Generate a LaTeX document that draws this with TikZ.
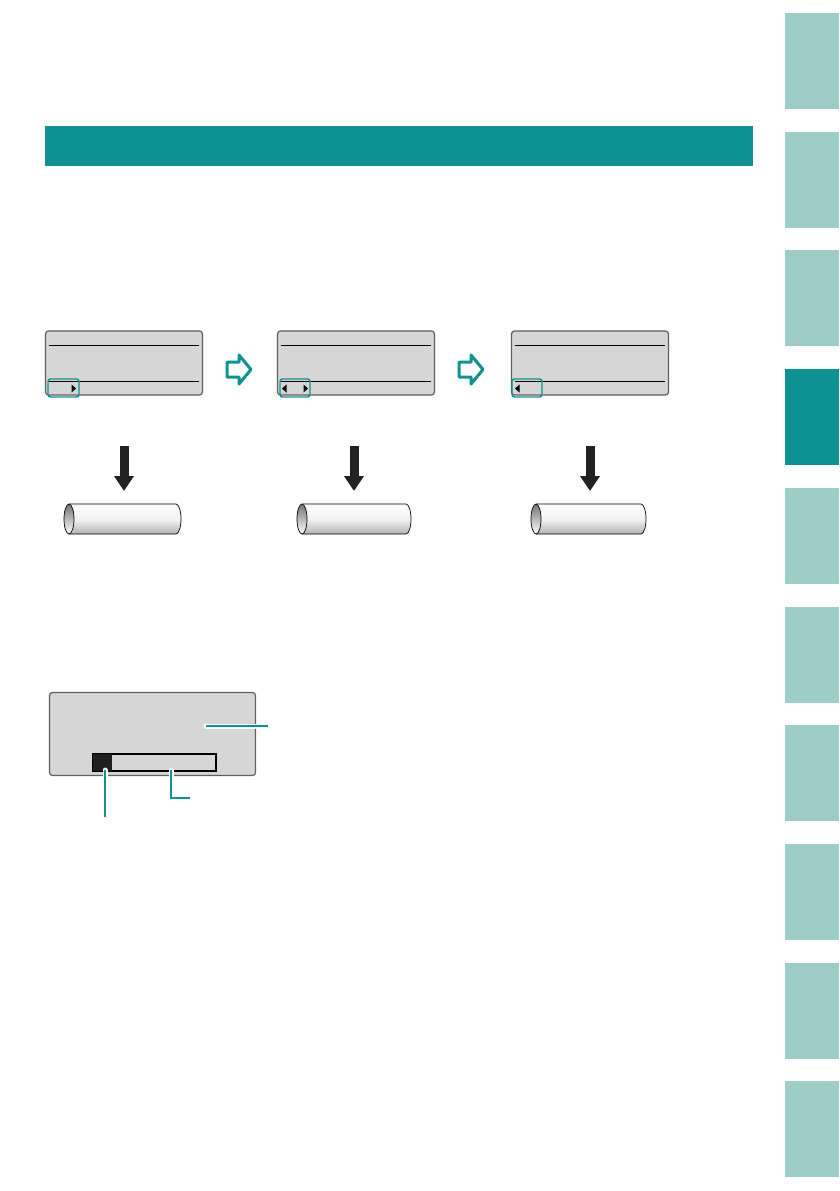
\documentclass[tikz,border=0pt]{standalone}
\usetikzlibrary{arrows.meta,shapes.geometric}
\definecolor{teal1}{RGB}{14,145,145}
\definecolor{tablight}{RGB}{157,205,198}
\definecolor{lcdgray}{RGB}{214,214,214}
\definecolor{lcdedge}{RGB}{95,95,95}
\definecolor{arrowdark}{RGB}{34,34,34}
\pgfdeclareverticalshading{tubeshade}{100bp}{color(0bp)=(black!50); color(25bp)=(black!30); color(50bp)=(white!95!black); color(75bp)=(white); color(100bp)=(white)}
\tikzset{
  tabbox/.style={fill=tablight,draw=none},
  lcd/.style={draw=lcdedge,line width=1.2pt,fill=lcdgray,rounded corners=3pt,minimum width=157pt,minimum height=64pt,inner sep=0pt},
  sel/.style={draw=teal1,line width=1.4pt,rounded corners=2.5pt},
  lcdline/.style={draw=black,line width=0.8pt},
  tri/.style={fill=black,draw=none},
  hollowarrow/.style={draw=teal1,line width=3pt,fill=white,line join=round},
  downarrow/.style={draw=arrowdark,line width=9pt,-{Triangle[length=15pt,width=19pt]}},
  tube/.style={draw=black,line width=0.7pt},
  leaderbg/.style={draw=white,line width=5pt,line cap=round},
  leader/.style={draw=teal1,line width=2.4pt},
}
\begin{document}
\begin{tikzpicture}[x=1pt,y=-1pt]
\useasboundingbox (0,0) rectangle (839,1191);
\fill[white] (0,0) rectangle (839,1191);
% side tabs
\foreach \i in {0,...,9}{
  \pgfmathsetmacro{\t}{13+118.7*\i}
  \fill[tabbox] (785,\t) rectangle (839,\t+96);
}
\fill[teal1] (785,369) rectangle (839,465);
% header bar
\node[fill=teal1,minimum width=708pt,minimum height=40pt,inner sep=0pt] (header) at (399,146) {};

% LCD screens
\node[lcd] (s1) at (124,363) {};
\node[lcd] (s2) at (356,363) {};
\node[lcd] (s3) at (590,363) {};
\foreach \s in {s1,s2,s3}{
  \draw[lcdline] ([xshift=4pt,yshift=-15pt]\s.north west) -- ([xshift=-4pt,yshift=-15pt]\s.north east);
  \draw[lcdline] ([xshift=4pt,yshift=14pt]\s.south west) -- ([xshift=-4pt,yshift=14pt]\s.south east);
}
% selection boxes
\node[sel,minimum width=31pt,minimum height=18pt,inner sep=0pt] (h1) at (63.5,388) {};
\node[sel,minimum width=30pt,minimum height=18pt,inner sep=0pt] (h2) at (295,388) {};
\node[sel,minimum width=30pt,minimum height=18pt,inner sep=0pt] (h3) at (527,388) {};
% triangles
\fill[tri] (71.5,384.5) -- (76,388.5) -- (71.5,392.5) -- cycle;
\fill[tri] (286.5,384.5) -- (282,388.5) -- (286.5,392.5) -- cycle;
\fill[tri] (303.5,384.5) -- (308,388.5) -- (303.5,392.5) -- cycle;
\fill[tri] (519.5,384.5) -- (515,388.5) -- (519.5,392.5) -- cycle;

% hollow arrows
\foreach \ax/\nm in {227/ha1,459/ha2}{
  \draw[hollowarrow] (\ax,362) -- (\ax+12,362) -- (\ax+12,355) -- (\ax+24,369.5) -- (\ax+12,384) -- (\ax+12,377) -- (\ax,377) -- cycle;
}

% down arrows
\foreach \xx/\n in {124/1,354/2,590/3}{
  \coordinate (at\n) at (\xx,446);
  \coordinate (ab\n) at (\xx,491);
  \draw[downarrow] (at\n) -- (ab\n);
}

% tubes
\foreach \xl/\xr/\n in {64/181/1,297/411/2,531/646/3}{
  \shade[shading=tubeshade]
    (\xl+5,504) -- (\xr-5,504) arc[start angle=-90,end angle=90,x radius=5,y radius=15] -- (\xl+5,534) -- cycle;
  \draw[tube] (\xl+5,504) -- (\xr-5,504) arc[start angle=-90,end angle=90,x radius=5,y radius=15] -- (\xl+5,534);
  \shade[top color=black!55,bottom color=white] (\xl+5,519) ellipse[x radius=5,y radius=15];
  \draw[tube] (\xl+5,519) ellipse[x radius=5,y radius=15];
  \coordinate (tube\n) at (\xl+5,519);
}

% big LCD with progress bar
\node[lcd,minimum width=206pt,minimum height=83pt] (big) at (152.5,734) {};
\node[draw=black,line width=1.2pt,fill=lcdgray,minimum width=123pt,minimum height=17pt,inner sep=0pt] (bar) at (154.5,762.5) {};
\fill[black!88] (bar.north west) rectangle ([xshift=20pt]bar.south west);
\draw[black,line width=1.2pt] (bar.north west) rectangle (bar.south east);

% leader lines
\coordinate (l1a) at (206,726);
\coordinate (l1b) at (268,726);
\coordinate (l2a) at (171,770);
\coordinate (l2b) at (171,798);
\coordinate (l2c) at (190,798);
\coordinate (l3a) at (105,770);
\coordinate (l3b) at (105,817);
\draw[leaderbg] (l1a) -- (l1b);
\draw[leaderbg] (l2a) -- (l2b);
\draw[leaderbg] (l3a) -- (l3b);
\draw[leader] (l1a) -- (l1b);
\draw[leader] (l2a) -- (l2b) -- (l2c);
\draw[leader] (l3a) -- (l3b);
\end{tikzpicture}
\end{document}
